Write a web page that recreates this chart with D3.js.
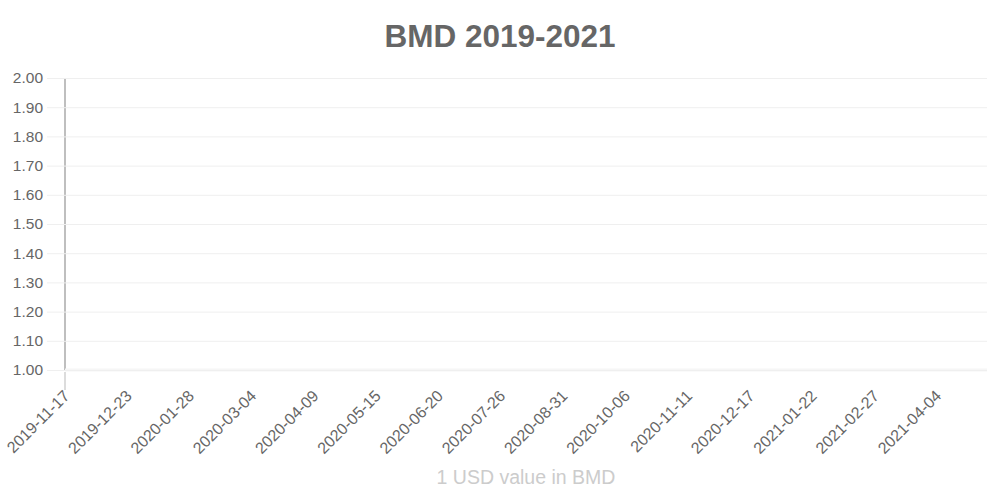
<html>
<head>
<meta charset="utf-8">
<script src="https://cdn.jsdelivr.net/npm/d3@7"></script>
<style>
  body { margin: 0; background: #fff; }
  text { font-family: "Liberation Sans", Arial, sans-serif; }
</style>
</head>
<body>
<script>
// chart data
var tickLabels = ["2019-11-17", "2019-12-23", "2020-01-28", "2020-03-04", "2020-04-09",
                  "2020-05-15", "2020-06-20", "2020-07-26", "2020-08-31", "2020-10-06",
                  "2020-11-11", "2020-12-17", "2021-01-22", "2021-02-27", "2021-04-04"];
var rateDates = ["2019-11-17", "2019-12-23", "2020-01-28", "2020-03-04", "2020-04-09",
                 "2020-05-15", "2020-06-20", "2020-07-26", "2020-08-31", "2020-10-06",
                 "2020-11-11", "2020-12-17", "2021-01-22", "2021-02-27", "2021-04-04",
                 "2021-05-03"];
var rates = [1.00, 1.00, 1.00, 1.00, 1.00, 1.00, 1.00, 1.00,
             1.00, 1.00, 1.00, 1.00, 1.00, 1.00, 1.00, 1.00];
var yTicks = [1.00, 1.10, 1.20, 1.30, 1.40, 1.50, 1.60, 1.70, 1.80, 1.90, 2.00];

var width = 1000, height = 500;
var plotL = 65, plotR = 987, plotT = 78, plotB = 370;
var parse = d3.timeParse("%Y-%m-%d");

var svg = d3.select("body").append("svg")
    .attr("width", width)
    .attr("height", height);

var x = d3.scaleTime()
    .domain([parse(rateDates[0]), parse(rateDates[rateDates.length - 1])])
    .range([plotL, plotR]);
var y = d3.scaleLinear().domain([1, 2]).range([plotB, plotT]);

// title
svg.append("text")
    .attr("x", width / 2)
    .attr("y", 47)
    .attr("text-anchor", "middle")
    .style("font-size", "31.5px")
    .style("font-weight", "bold")
    .style("fill", "#666")
    .text("BMD 2019-2021");

// y axis line
svg.append("line")
    .attr("x1", plotL).attr("x2", plotL)
    .attr("y1", plotT).attr("y2", plotB)
    .attr("stroke", "#aaa").attr("stroke-width", 1.5);
svg.append("line")
    .attr("x1", plotL).attr("x2", plotL)
    .attr("y1", plotB + 2).attr("y2", plotB + 20)
    .attr("stroke", "#d0d0d0").attr("stroke-width", 1.5);

// y grid + labels
var yAxis = d3.axisLeft(y)
    .tickValues(yTicks)
    .tickSize(-(plotR - 47))
    .tickPadding(4)
    .tickFormat(d3.format(".2f"));
var gy = svg.append("g")
    .attr("transform", "translate(47,0)")
    .call(yAxis);
gy.select(".domain").remove();
gy.selectAll("line").attr("stroke", "#efefef");
gy.selectAll("text")
    .style("font-size", "15.5px")
    .style("fill", "#666")
    .style("font-family", "Liberation Sans, Arial, sans-serif");

// rate line (pegged at 1.00, sits on the bottom grid line)
var line = d3.line()
    .x(function(d, i) { return x(parse(rateDates[i])); })
    .y(function(d) { return y(d); });
svg.append("path")
    .datum(rates)
    .attr("d", line)
    .attr("fill", "none")
    .attr("stroke", "#f6f6f6")
    .attr("stroke-width", 3);
// redraw the thin 1.00 grid line on top
svg.append("line")
    .attr("x1", plotL).attr("x2", plotR)
    .attr("y1", y(1) + 0.5).attr("y2", y(1) + 0.5)
    .attr("stroke", "#efefef");

// x labels
var xAxis = d3.axisBottom(x)
    .tickValues(tickLabels.map(parse))
    .tickSize(0)
    .tickFormat(d3.timeFormat("%Y-%m-%d"));
var gx = svg.append("g")
    .attr("transform", "translate(0," + plotB + ")")
    .call(xAxis);
gx.select(".domain").remove();
gx.selectAll("text")
    .style("font-size", "16px")
    .style("fill", "#666")
    .style("font-family", "Liberation Sans, Arial, sans-serif")
    .attr("text-anchor", "end")
    .attr("y", 0).attr("dy", "0.35em")
    .attr("transform", "translate(1,23) rotate(-45)");

// x axis title
svg.append("text")
    .attr("x", (plotL + plotR) / 2)
    .attr("y", 484)
    .attr("text-anchor", "middle")
    .style("font-size", "19.5px")
    .style("fill", "#ccc")
    .text("1 USD value in BMD");
</script>
</body>
</html>
